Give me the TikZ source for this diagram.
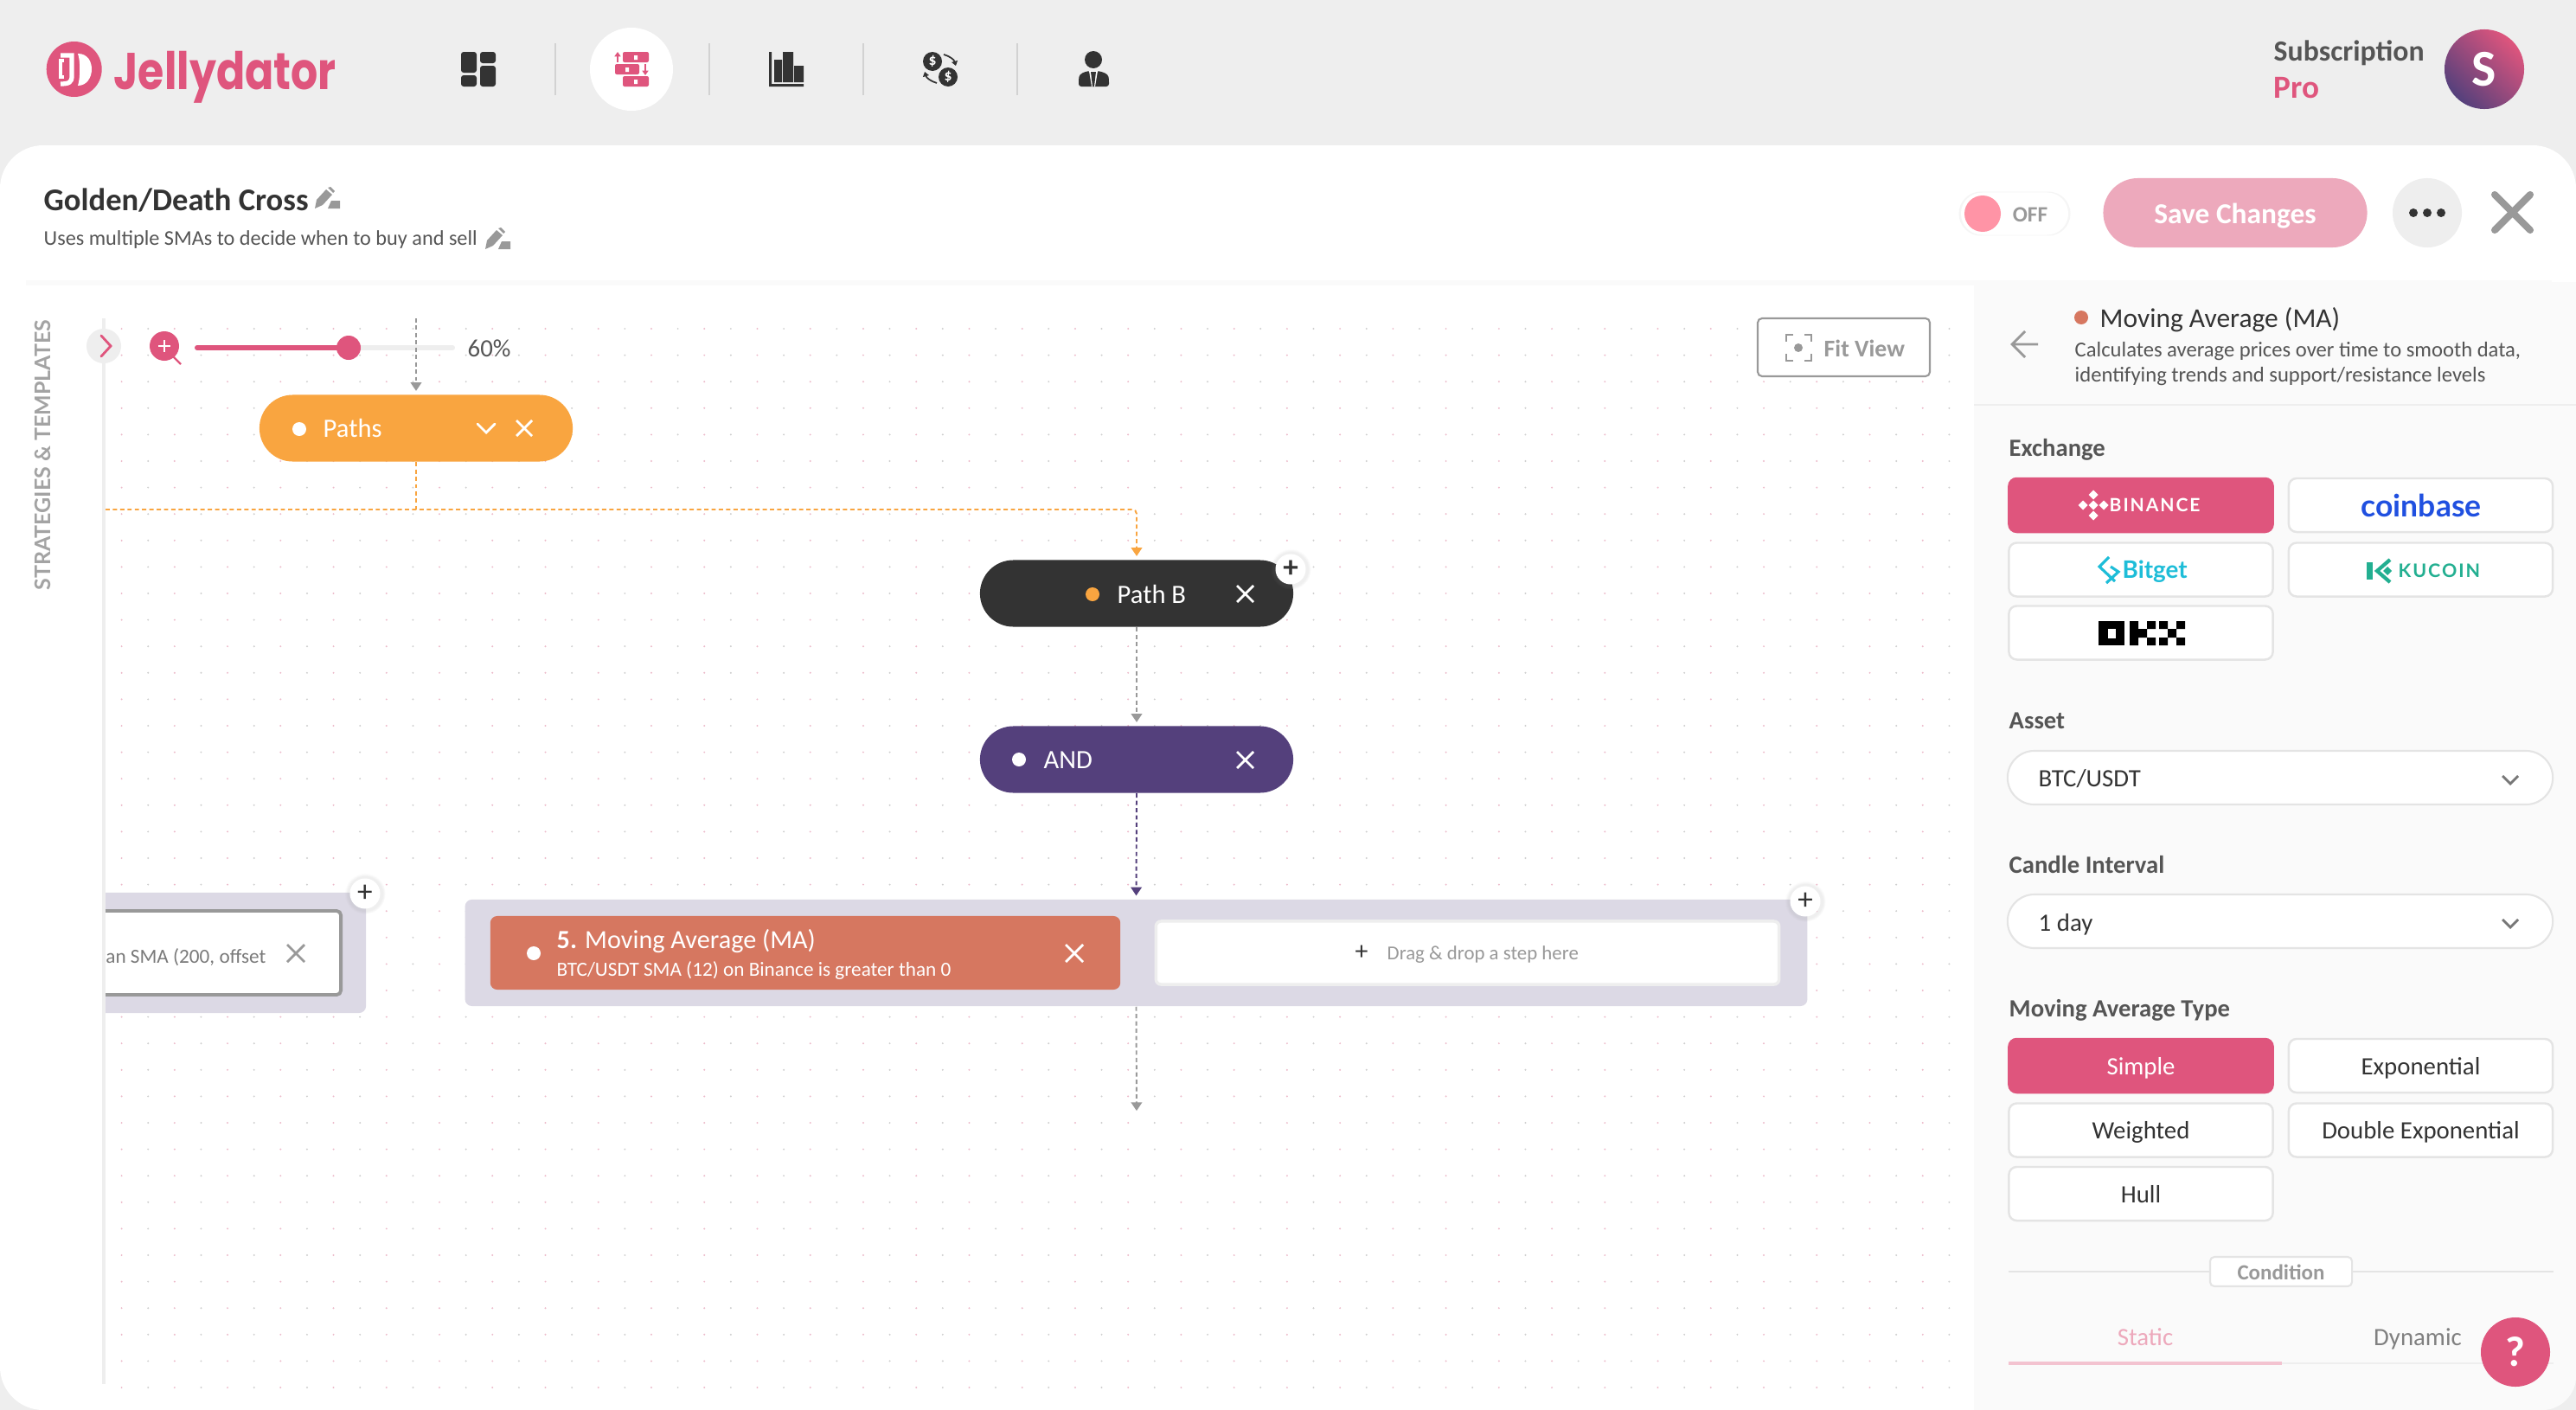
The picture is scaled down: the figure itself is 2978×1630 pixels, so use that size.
\documentclass[tikz,border=0pt]{standalone}
\usepackage{fontspec}
\usepackage{tikz}
\usetikzlibrary{arrows.meta,shapes.misc,shadows}
\setmainfont{Carlito}
\newfontfamily\logofont{Poppins}
\newfontfamily\latofont{Lato}
\newfontfamily\spacedfont[LetterSpace=9]{Lato}
\definecolor{jellypink}{HTML}{DF557D}
\definecolor{softpink}{HTML}{EDA9BC}
\definecolor{togglepink}{HTML}{FF94A6}
\definecolor{headgray}{HTML}{EEEEEE}
\definecolor{sidegray}{HTML}{FAFAFA}
\definecolor{inkdark}{HTML}{333333}
\definecolor{inkmid}{HTML}{555555}
\definecolor{inkpale}{HTML}{999999}
\definecolor{edgegray}{HTML}{E4E4E4}
\definecolor{pathorange}{HTML}{F9A540}
\definecolor{andpurple}{HTML}{54407C}
\definecolor{stepred}{HTML}{D67760}
\definecolor{blocklav}{HTML}{DCD9E5}
\definecolor{dotpink}{HTML}{EDBBCB}
\definecolor{dotgray}{HTML}{CFCFCF}
\definecolor{coinblue}{HTML}{2050E0}
\definecolor{bitteal}{HTML}{1DBDD8}
\definecolor{kugreen}{HTML}{23AF91}
\tikzset{
  pill/.style={rounded rectangle, minimum width=3.62cm, minimum height=0.77cm, inner sep=0pt},
  optbtn/.style={rectangle, rounded corners=0.09cm, draw=edgegray, line width=0.7pt, fill=white, minimum width=3.05cm, minimum height=0.62cm, inner sep=0pt},
  optsel/.style={optbtn, draw=jellypink, fill=jellypink},
  selectbox/.style={rounded rectangle, draw=edgegray, line width=0.6pt, fill=white, minimum width=6.3cm, minimum height=0.62cm, inner sep=0pt},
  addbtn/.style={circle, fill=white, minimum size=0.35cm, inner sep=0pt, text=inkdark, font=\fontsize{10}{10}\selectfont, circular drop shadow={shadow xshift=0pt, shadow yshift=0pt, shadow scale=1.35, opacity=0.12}},
  flowline/.style={line width=0.55pt, dash pattern=on 1.4pt off 1pt},
  flowtip/.style={-{Triangle[width=3.6pt,length=2.8pt]}, shorten >=1.1pt},
  closemark/.style={line width=0.8pt},
  txt/.style={inner sep=0pt, anchor=base west, yshift=-0.5pt},
  txtc/.style={inner sep=0pt, anchor=base, yshift=-0.5pt},
  pillsize/.style={font=\fontsize{8.7}{10}\selectfont},
  bodysize/.style={font=\fontsize{8.2}{10}\selectfont},
  labelsize/.style={font=\bfseries\fontsize{8.15}{10}\selectfont},
  descsize/.style={font=\fontsize{7}{9}\selectfont},
  stepsize/.style={font=\fontsize{6.6}{8}\selectfont},
}
\begin{document}
\begin{tikzpicture}[x=0.01cm, y=-0.01cm]
\useasboundingbox (0,0) rectangle (2978,1630);
\fill[headgray] (0,0) rectangle (2978,1630); % header ground
\fill[white, rounded corners=0.5cm] (0,168) rectangle (2978,1630); % sheet
\fill[sidegray] (30,324) rectangle (2950,330); % strip
\fill[sidegray] (2282,326) -- (2282,1630) -- (2940,1630) .. controls (2960,1630) and (2978,1612) .. (2978,1592) -- (2978,326) -- cycle; % side panel
\draw[headgray, line width=0.6pt] (2282,468) -- (2978,468);

% dot grid
\foreach \gi in {0,...,69}{
  \pgfmathsetmacro{\gx}{140.6+30.62*\gi}
  \ifodd\gi \def\dotcol{dotgray}\else \def\dotcol{dotpink}\fi
  \foreach \gj in {0,...,40}{
    \fill[\dotcol] (\gx,380+30.6*\gj) circle (1.1);
  }
}

% logo
\fill[jellypink] (85.7,80) circle (32); % logo disc
\fill[white] (90,62) .. controls (102,62) and (106,72) .. (106,80) .. controls (106,90) and (100,99) .. (90,99) .. controls (93,90) and (93,70) .. (90,62) -- cycle;
\draw[white, line width=1.5pt] (70,64) -- (83,64) -- (83,88) .. controls (83,95) and (80,97) .. (70,97);
\draw[white, line width=1pt] (74,70) -- (70,70) -- (70,89) -- (74,89);
\node[txt, text=jellypink, xscale=0.82, font=\logofont\bfseries\fontsize{17}{18}\selectfont] (logotext) at (131,102) {Jellydator};

% nav
\foreach \sepx in {642,820,998,1176}{
  \draw[gray!35, line width=0.4pt] (\sepx,50) -- (\sepx,110);
}
\fill[white] (730,80) circle (48); % active tab
\fill[inkdark, rounded corners=0.03cm] (533,60) rectangle (551,84) (533,87) rectangle (551,100) (555,60) rectangle (573,73) (555,76) rectangle (573,100); % dashboard
\fill[jellypink, rounded corners=0.02cm] (720,60) rectangle (750,72) (711,74) rectangle (739,86) (720,88) rectangle (750,100); % flow
\fill[white] (733,64) rectangle (737,69) (723,78) rectangle (727,83) (733,92) rectangle (737,97);
\draw[jellypink, line width=0.5pt, -{Triangle[width=2pt,length=1.5pt]}] (714,72) -- (714,60);
\draw[jellypink, line width=0.5pt, -{Triangle[width=2pt,length=1.5pt]}] (746,74) -- (746,87);
\fill[inkdark] (895,69) rectangle (904,95) (905,60) rectangle (917,95) (918,76) rectangle (929,95) (889,97) rectangle (929,100) (889,60) rectangle (892,100); % chart
\fill[inkdark] (1078,71) circle (11) (1096,89) circle (11); % coins
\node[inner sep=0pt, text=white, font=\bfseries\fontsize{5}{5}\selectfont] (coina) at (1078,71) {\$};
\node[inner sep=0pt, text=white, font=\bfseries\fontsize{5}{5}\selectfont] (coinb) at (1096,89) {\$};
\draw[inkdark, line width=0.5pt, -{Triangle[width=2pt,length=1.5pt]}] (1091,63) .. controls (1098,65) and (1103,69) .. (1105,76);
\draw[inkdark, line width=0.5pt, -{Triangle[width=2pt,length=1.5pt]}] (1083,96) .. controls (1076,94) and (1071,90) .. (1069,83);
\fill[inkdark] (1264,69) circle (10); % person
\fill[inkdark, rounded corners=0.03cm] (1247,100) -- (1247,92) .. controls (1248,85) and (1254,83) .. (1260,82) -- (1268,82) .. controls (1274,83) and (1281,85) .. (1282,92) -- (1282,100) -- cycle;
\fill[white] (1259,82) -- (1269,82) -- (1266,100) -- (1262,100) -- cycle;
\fill[inkdark] (1261,83) -- (1267,83) -- (1265,100) -- (1263,100) -- cycle;

% account
\node[txt, text=inkmid, font=\bfseries\fontsize{9.6}{10}\selectfont] (subscr) at (2628,69) {Subscription};
\node[txt, text=jellypink, font=\bfseries\fontsize{10.6}{11}\selectfont] (subplan) at (2628,112) {Pro};
\node[circle, minimum size=0.92cm, inner sep=0pt, left color=jellypink, right color=andpurple, shading angle=-45, text=white, font=\bfseries\fontsize{17}{17}\selectfont] (avatar) at (2872,80) {S};

% title row
\node[txt, text=inkdark, font=\bfseries\fontsize{10.4}{12}\selectfont] (titletext) at (50,242) {Golden/Death Cross};
\node[txt, text=inkmid, font=\fontsize{6.9}{9}\selectfont] (subtitletext) at (50,282) {Uses multiple SMAs to decide when to buy and sell};
\foreach \ex/\ey in {364/217,561/264}{
  \begin{scope}[shift={(\ex,\ey)}]
    \fill[inkpale] (0,24) -- (2,14) -- (13,2) -- (20,8) -- (9,20) -- cycle; % pencil
    \fill[inkpale] (15,0) -- (18,-1) -- (23,4) -- (21,6) -- cycle;
    \fill[inkpale] (15,24) -- (19,15) -- (29,15) -- (29,24) -- cycle;
  \end{scope}
}
\node[rounded rectangle, fill=white, minimum width=1.24cm, minimum height=0.49cm, inner sep=0pt, drop shadow={shadow xshift=0pt, shadow yshift=0pt, shadow scale=1.04, opacity=0.08}] (togglebg) at (2329,247) {};
\fill[togglepink] (2292,247) circle (21);
\node[txtc, text=inkpale, font=\bfseries\fontsize{7.2}{8}\selectfont] (toggletext) at (2347,255) {OFF};
\node[rounded rectangle, fill=softpink, minimum width=3.05cm, minimum height=0.8cm, inner sep=0pt] (savebtn) at (2584,246) {};
\node[txtc, text=white, font=\bfseries\fontsize{9.5}{12}\selectfont] (savetext) at (2584,257) {Save Changes};
\node[circle, fill=headgray, minimum size=0.8cm, inner sep=0pt] (morebtn) at (2806,246) {};
\fill[inkdark] (2790,246) circle (5) (2806,246) circle (5) (2822,246) circle (5);
\draw[inkpale, line width=2.3pt, line cap=round] (2884,225) -- (2925,266) (2884,266) -- (2925,225); % close

% left rail
\fill[headgray] (118,368) rectangle (122,1600);
\node[rotate=90, inner sep=0pt, anchor=base, text=inkpale!90, font=\latofont\bfseries\fontsize{7.1}{8}\selectfont] (railtext) at (58,526) {STRATEGIES \& TEMPLATES};
\begin{scope}
  \clip (122,340) rectangle (2282,1630);
  \node[rectangle, fill=blocklav, rounded corners=0.08cm, minimum width=3.63cm, minimum height=1.39cm, inner sep=0pt] (blockleft) at (241.5,1101.5) {};
  \node[rectangle, draw=inkpale, fill=white, rounded corners=0.05cm, line width=1.1pt, minimum width=3.34cm, minimum height=0.97cm, inner sep=0pt] (cardleft) at (227,1101.5) {};
  \node[inner sep=0pt, anchor=base east, text=inkpale!80!black, stepsize] (cardlefttext) at (308,1113) {than SMA (200, offset};
\end{scope}
\draw[inkpale, closemark] (332,1092) -- (352,1112) (332,1112) -- (352,1092);
\node[addbtn] (addleft) at (422,1033) {+};

% zoom bar
\node[circle, fill=headgray, minimum size=0.4cm, inner sep=0pt] (railbtn) at (120,400) {};
\draw[jellypink, line width=0.8pt, line cap=round] (117,388) -- (128,400) -- (117,412);
\fill[jellypink] (190,400) circle (17);
\draw[jellypink, line width=0.7pt] (200,412) -- (209,421);
\draw[white, line width=0.7pt] (183,400) -- (197,400) (190,393) -- (190,407);
\draw[headgray, line width=1.7pt, line cap=round] (228,402) -- (523,402);
\draw[jellypink, line width=1.7pt, line cap=round] (228,402) -- (403,402);
\fill[jellypink] (403,402) circle (14);
\node[txt, text=inkmid, bodysize] (zoomtext) at (540,411) {60\%};
\draw[rounded corners=0.05cm, draw=inkpale, line width=0.6pt, fill=white] (2032,368) rectangle (2231,435);
\node[txt, text=inkpale, font=\bfseries\fontsize{7.9}{10}\selectfont] (fittext) at (2108,411) {Fit View};
\draw[inkpale, line width=0.6pt] (2065,395) -- (2065,387) -- (2073,387) (2086,387) -- (2094,387) -- (2094,395) (2094,409) -- (2094,417) -- (2086,417) (2073,417) -- (2065,417) -- (2065,409);
\fill[inkpale] (2079,402) circle (5);

% flow nodes
\coordinate (flowstart) at (481,368);
\coordinate (railleft) at (122,589);
\coordinate (railturn) at (1314,589);
\coordinate (flowend) at (1314,1288);
\node[pill, fill=pathorange] (paths) at (481,495) {};
\node[pill, fill=inkdark] (pathb) at (1314,686) {};
\node[pill, fill=andpurple] (andstep) at (1314,878) {};
\node[rectangle, fill=blocklav, rounded corners=0.08cm, minimum width=15.51cm, minimum height=1.23cm, inner sep=0pt] (blockright) at (1313.5,1101.5) {};
\node[rectangle, fill=stepred, rounded corners=0.08cm, minimum width=7.28cm, minimum height=0.85cm, inner sep=0pt] (stepma) at (931,1101.5) {};
\node[rectangle, draw=headgray, fill=white, rounded corners=0.06cm, line width=1pt, minimum width=7.2cm, minimum height=0.73cm, inner sep=0pt] (dropzone) at (1696.5,1101.5) {};

% connectors
\draw[flowline, inkpale, flowtip] (flowstart) -- (paths.north);
\draw[flowline, pathorange] (paths.south) -- (paths.south |- railleft);
\draw[flowline, pathorange, flowtip, rounded corners=0.05cm] (railleft) -- (railturn) -- (pathb.north);
\draw[flowline, inkpale, flowtip] (pathb.south) -- (andstep.north);
\draw[flowline, andpurple, flowtip] (andstep.south) -- (blockright.north);
\draw[flowline, inkpale, flowtip] (blockright.south) -- (flowend);

% labels of flow nodes
\fill[white] (346,496) circle (8);
\node[txt, text=white, pillsize] (pathstext) at (373,504) {Paths};
\draw[white, closemark, line cap=round] (552,490) -- (562,500) -- (572,490);
\draw[white, closemark] (597,486) -- (615,504) (597,504) -- (615,486);
\fill[pathorange] (1263,687) circle (8);
\node[txt, text=white, pillsize] (pathbtext) at (1291,696) {Path B};
\draw[white, closemark] (1430,677) -- (1449,696) (1430,696) -- (1449,677);
\node[addbtn, font=\bfseries\fontsize{10}{10}\selectfont] (addpathb) at (1492,658) {+};
\fill[white] (1178,878) circle (8);
\node[txt, text=white, pillsize] (andtext) at (1206,887) {AND};
\draw[white, closemark] (1430,869) -- (1449,888) (1430,888) -- (1449,869);
\fill[white] (617,1102) circle (8);
\node[txt, text=white, font=\fontsize{8.6}{10}\selectfont] (stepmatitle) at (643,1095) {\textbf{5.} Moving Average (MA)};
\node[txt, text=white, stepsize] (stepmadesc) at (643,1127) {BTC/USDT SMA (12) on Binance is greater than 0};
\draw[white, closemark] (1232,1092) -- (1252,1112) (1232,1112) -- (1252,1092);
\node[txt, text=inkdark, font=\fontsize{8.5}{8}\selectfont] (dropplus) at (1566,1108) {+};
\node[txt, text=inkpale, font=\fontsize{6.5}{8}\selectfont] (droptext) at (1603,1108) {Drag \& drop a step here};
\node[addbtn] (addright) at (2087,1042) {+};

% side panel
\fill[stepred] (2406,367) circle (8);
\node[txt, text=inkdark, font=\fontsize{8.95}{12}\selectfont] (sidetitle) at (2427,377) {Moving Average (MA)};
\node[txt, text=inkmid, descsize] (sidedesca) at (2398,411) {Calculates average prices over time to smooth data,};
\node[txt, text=inkmid, descsize] (sidedescb) at (2398,440) {identifying trends and support/resistance levels};
\draw[inkpale, line width=0.8pt] (2356,398) -- (2326,398) (2341,383) -- (2326,398) -- (2341,413);

% exchange
\node[txt, text=inkmid, labelsize] (exchlabel) at (2322,526) {Exchange};
\node[optsel] (binance) at (2475,584) {};
\node[optbtn] (coinbase) at (2798.5,584) {};
\node[optbtn] (bitget) at (2475,658.5) {};
\node[optbtn] (kucoin) at (2798.5,658.5) {};
\node[optbtn] (okx) at (2475,731.5) {};
\foreach \bx/\by in {2420/584,2420/572,2420/596,2408/584,2432/584}{
  \fill[white] (\bx,\by-5.5) -- (\bx+5.5,\by) -- (\bx,\by+5.5) -- (\bx-5.5,\by) -- cycle;
}
\node[txt, text=white, font=\spacedfont\bfseries\fontsize{6}{8}\selectfont] (binancetext) at (2438,590) {BINANCE};
\node[txtc, text=coinblue, font=\latofont\bfseries\fontsize{10.1}{12}\selectfont] (coinbasetext) at (2799,596) {coinbase};
\draw[bitteal, line width=0.9pt] (2438,644) -- (2427,655) -- (2445,672) (2440,655) -- (2449,661) -- (2435,674);
\node[txt, text=bitteal, font=\latofont\bfseries\fontsize{7.9}{9}\selectfont] (bitgettext) at (2453,667) {Bitget};
\fill[kugreen] (2736,650) rectangle (2743,670);
\draw[kugreen, line width=1.2pt] (2763,647) -- (2748,660) -- (2763,673);
\fill[kugreen] (2760,655) -- (2765,660) -- (2760,665) -- (2755,660) -- cycle;
\node[txt, text=kugreen, font=\spacedfont\bfseries\fontsize{6.1}{8}\selectfont] (kucointext) at (2772,666) {KUCOIN};
\fill[black] (2426,718) rectangle (2456,746); % okx mark
\fill[white] (2437,727) rectangle (2446,738);
\fill[black] (2462,718) rectangle (2472,746) (2472,727) rectangle (2482,737) (2482,718) rectangle (2492,727) (2482,737) rectangle (2492,746);
\fill[black] (2496,718) rectangle (2506,727) (2496,737) rectangle (2506,746) (2506,727) rectangle (2516,737) (2516,718) rectangle (2526,727) (2516,737) rectangle (2526,746);

% asset and interval
\node[txt, text=inkmid, labelsize] (assetlabel) at (2322,841) {Asset};
\node[selectbox] (assetbox) at (2636,899) {};
\node[txt, text=inkdark, bodysize] (assettext) at (2356,908) {BTC/USDT};
\draw[inkmid!80, line width=0.8pt] (2893,897) -- (2902,906) -- (2911,897);
\node[txt, text=inkmid, labelsize] (candlelabel) at (2322,1008) {Candle Interval};
\node[selectbox] (candlebox) at (2636,1065) {};
\node[txt, text=inkdark, bodysize] (candletext) at (2356,1075) {1 day};
\draw[inkmid!80, line width=0.8pt] (2893,1063) -- (2902,1072) -- (2911,1063);

% moving average type
\node[txt, text=inkmid, labelsize] (typelabel) at (2322,1174) {Moving Average Type};
\node[optsel] (simplebtn) at (2475,1232) {};
\node[optbtn] (expbtn) at (2798.5,1232) {};
\node[optbtn] (weightbtn) at (2475,1306.5) {};
\node[optbtn] (doublebtn) at (2798.5,1306.5) {};
\node[optbtn] (hullbtn) at (2475,1380) {};
\node[txtc, text=white, bodysize] (simpletext) at (2475,1241) {Simple};
\node[txtc, text=inkdark, bodysize] (exptext) at (2798.5,1241) {Exponential};
\node[txtc, text=inkdark, bodysize] (weighttext) at (2475,1315) {Weighted};
\node[txtc, text=inkdark, bodysize] (doubletext) at (2798.5,1315) {Double Exponential};
\node[txtc, text=inkdark, bodysize] (hulltext) at (2475,1389) {Hull};

% condition
\node[rectangle, draw=edgegray, line width=0.6pt, fill=white, rounded corners=0.05cm, minimum width=1.64cm, minimum height=0.34cm, inner sep=0pt] (condbox) at (2637,1470) {};
\coordinate (condleft) at (2322,1470);
\coordinate (condright) at (2952,1470);
\draw[edgegray, line width=0.6pt] (condleft) -- (condbox) (condbox) -- (condright);
\node[txtc, text=inkpale, font=\bfseries\fontsize{7.1}{8}\selectfont] (condtext) at (2637,1478) {Condition};
\node[txtc, text=softpink, bodysize] (statictext) at (2480,1554) {Static};
\node[txtc, text=gray, bodysize] (dynamictext) at (2795,1554) {Dynamic};
\draw[headgray, line width=0.6pt] (2638,1576) -- (2952,1576);
\draw[softpink!70, line width=1.1pt] (2322,1576) -- (2638,1576);
\node[circle, fill=jellypink, minimum size=0.8cm, inner sep=0pt, text=white, font=\bfseries\fontsize{14}{14}\selectfont] (helpbtn) at (2908,1563) {?};
\end{tikzpicture}
\end{document}
